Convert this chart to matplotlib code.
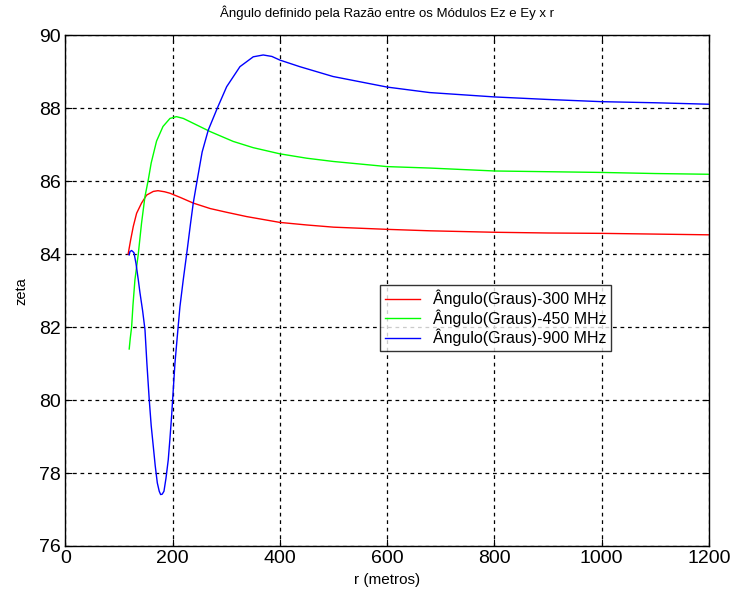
import matplotlib
matplotlib.use("Agg")
import matplotlib.pyplot as plt
from matplotlib import font_manager

# Pick a narrow sans face if one is installed
_names = {f.name for f in font_manager.fontManager.ttflist}
FONT = "Liberation Sans Narrow" if "Liberation Sans Narrow" in _names else "Liberation Sans"
plt.rcParams["font.family"] = [FONT, "DejaVu Sans"]

# Angle (degrees) versus distance r (m) for three frequencies
r_300 = [117, 121.7, 126.6, 132.8, 142, 151.5, 164, 172.6, 185, 195, 215, 238.4,
         270, 300, 338, 400, 450, 500, 600, 680, 800, 900, 1000, 1100, 1200]
ang_300 = [84.0, 84.39, 84.76, 85.12, 85.4, 85.62, 85.72, 85.74, 85.71, 85.67,
           85.55, 85.40, 85.25, 85.15, 85.03, 84.87, 84.80, 84.74, 84.68, 84.64,
           84.60, 84.58, 84.57, 84.55, 84.53]

r_450 = [119, 121, 123.5, 126, 129.7, 135.9, 142, 148.4, 154.6, 160, 170, 182,
         195, 207, 220, 245, 270, 313, 350, 400, 450, 500, 600, 680, 800, 1000,
         1100, 1200]
ang_450 = [81.4, 81.7, 82.0, 82.6, 83.3, 84.0, 84.85, 85.58, 86.04, 86.5, 87.1,
           87.5, 87.72, 87.77, 87.72, 87.54, 87.36, 87.09, 86.92, 86.75, 86.63,
           86.54, 86.40, 86.36, 86.28, 86.24, 86.21, 86.19]

r_900 = [119, 120.4, 123.5, 127.9, 131.6, 135.9, 139, 144, 148.4, 152, 156.4, 160,
         163.9, 167.5, 171.4, 175, 177.6, 180.5, 183.8, 187.5, 191.8, 195, 198,
         201, 204.3, 209, 213.6, 219.8, 227, 233, 238.4, 245.9, 255, 266.4, 283.2,
         300.7, 325.5, 350.3, 368.9, 385, 400, 437, 499, 600, 679, 800, 900, 1000,
         1100, 1200]
ang_900 = [83.98, 84.07, 84.1, 84.04, 83.75, 83.3, 82.95, 82.45, 81.93, 81.0,
           80.0, 79.3, 78.73, 78.2, 77.73, 77.5, 77.41, 77.42, 77.5, 77.85, 78.36,
           78.95, 79.55, 80.25, 81.01, 81.8, 82.56, 83.3, 84.1, 84.8, 85.4, 86.04,
           86.8, 87.4, 88.0, 88.59, 89.14, 89.41, 89.46, 89.42, 89.32, 89.14,
           88.87, 88.58, 88.43, 88.31, 88.24, 88.18, 88.15, 88.11]

labels = ["Ângulo(Graus)-300 MHz", "Ângulo(Graus)-450 MHz", "Ângulo(Graus)-900 MHz"]
colors = ["#ff0000", "#00ff00", "#0000ff"]

xticks = [0, 200, 400, 600, 800, 1000, 1200]
yticks = [76, 78, 80, 82, 84, 86, 88, 90]

fig = plt.figure(figsize=(7.33, 5.99), dpi=100)
ax = fig.add_axes([0.0892, 0.0885, 0.878, 0.8526])

for xs, ys, lab, c in zip([r_300, r_450, r_900], [ang_300, ang_450, ang_900],
                          labels, colors):
    ax.plot(xs, ys, color=c, lw=1.0, label=lab)

ax.set_xlim(0, 1200)
ax.set_ylim(76, 90)
ax.set_xticks(xticks)
ax.set_yticks(yticks)
ax.grid(True, color="black", linestyle=(0, (3, 3)), linewidth=0.9)
ax.tick_params(direction="in", length=5, top=True, right=True,
               labelsize=14, width=0.8, pad=3)
for s in ax.spines.values():
    s.set_linewidth(1.0)

ax.set_title("Ângulo definido pela Razão entre os Módulos Ez e Ey x r",
             fontsize=9.5, pad=13)
ax.set_xlabel("r (metros)", fontsize=11, labelpad=4)
ax.set_ylabel("zeta", fontsize=10.5, labelpad=8)

leg = ax.legend(loc="upper left", bbox_to_anchor=(0.489, 0.511), fontsize=11.5,
                frameon=True, fancybox=False, borderaxespad=0,
                handlelength=2.2, handletextpad=0.8, labelspacing=0.12,
                borderpad=0.3)
leg.get_frame().set_edgecolor("black")
leg.get_frame().set_linewidth(1.0)

fig.savefig("out.png", dpi=100, facecolor="white")
